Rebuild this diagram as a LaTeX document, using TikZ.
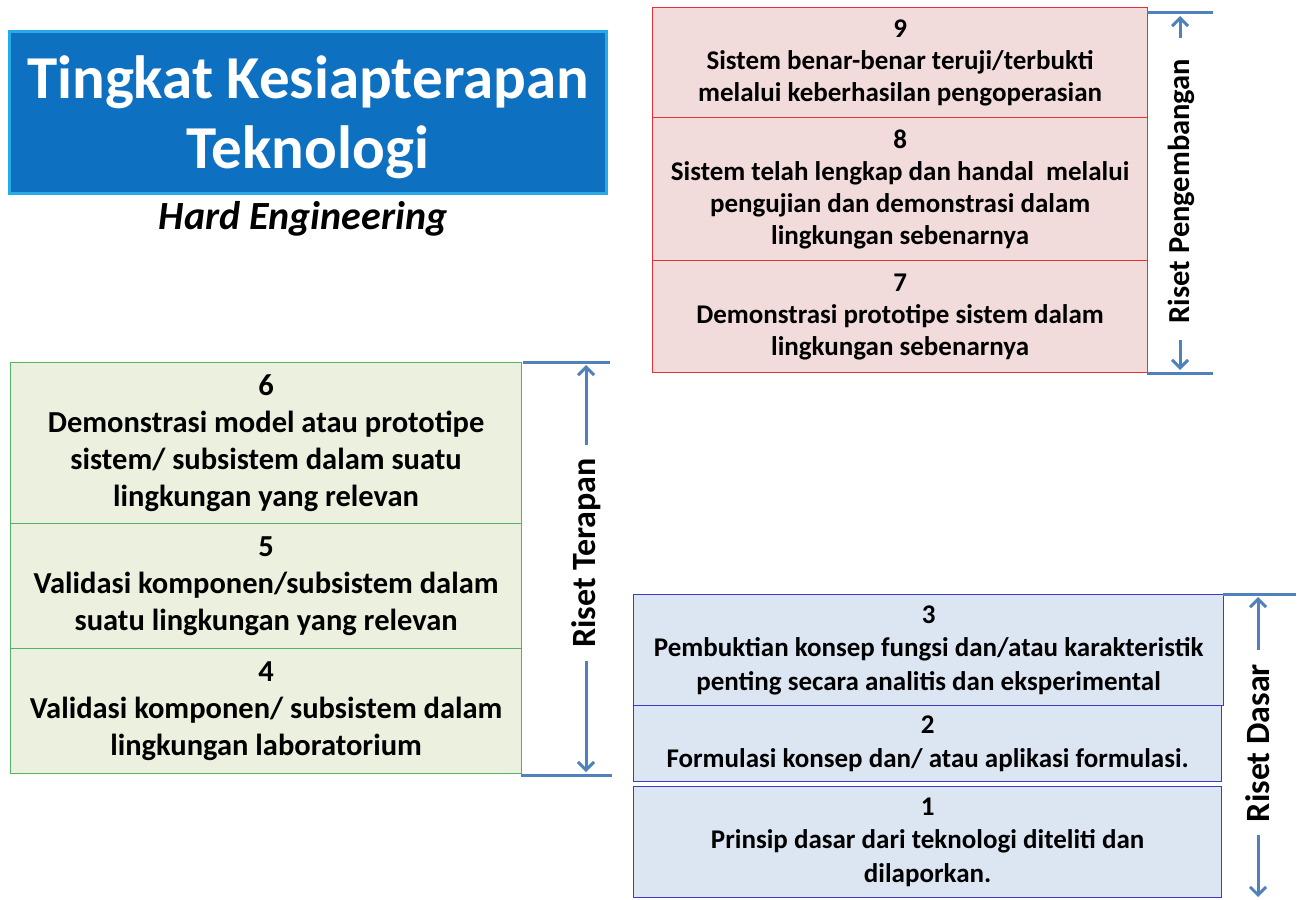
\documentclass[tikz,border=0pt]{standalone}
\usepackage{fontspec}
\setmainfont{Carlito}
\usetikzlibrary{arrows.meta}
\definecolor{titlefill}{RGB}{14,112,192}
\definecolor{titleline}{RGB}{40,170,230}
\definecolor{pinkfill}{RGB}{242,220,219}
\definecolor{redline}{RGB}{228,50,55}
\definecolor{greenfill}{RGB}{235,241,222}
\definecolor{greenline}{RGB}{80,180,100}
\definecolor{bluefill}{RGB}{220,230,242}
\definecolor{blueline}{RGB}{60,60,200}
\definecolor{brk}{RGB}{79,129,189}
\tikzset{
  lvl/.style={draw, line width=1.2pt, align=center, inner sep=0pt, anchor=north west},
  redbox/.style={lvl, fill=pinkfill, draw=redline, font=\bfseries\fontsize{27}{32}\selectfont},
  greenbox/.style={lvl, fill=greenfill, draw=greenline, font=\bfseries\fontsize{30.5}{37}\selectfont},
  bluebox/.style={lvl, fill=bluefill, draw=blueline, font=\bfseries\fontsize{27}{33.5}\selectfont},
  brkline/.style={draw=brk, line width=3pt},
  brkarrow/.style={draw=brk, line width=3pt, -{Straight Barb[length=8pt,width=16pt]}},
  sidelabel/.style={rotate=90, inner sep=0pt, font=\bfseries\fontsize{34}{40}\selectfont},
}
\begin{document}
\begin{tikzpicture}[x=1pt,y=-1pt]
\useasboundingbox (0,0) rectangle (1300,899);
% title
\node[draw=titleline, fill=titlefill, line width=3pt, minimum width=597pt, minimum height=162pt, anchor=north west, inner sep=0pt] (title) at (8,30) {};
\node[text=white, align=center, inner sep=0pt, font=\bfseries\fontsize{61}{70}\selectfont] (titletext) at ([yshift=-5pt]title.center) {Tingkat Kesiapterapan\\Teknologi};
\node[font=\bfseries\itshape\fontsize{40}{44}\selectfont, inner sep=0pt] (sub) at (303,219) {Hard Engineering};
% red boxes
\node[redbox, minimum width=495pt, minimum height=110pt, text depth=4pt] (n9) at (652,7) {9\\Sistem benar-benar teruji/terbukti\\melalui keberhasilan pengoperasian};
\node[redbox, minimum width=495pt, minimum height=143pt] (n8) at (652,117) {8\\Sistem telah lengkap dan handal\ \ melalui\\pengujian dan demonstrasi dalam\\lingkungan sebenarnya};
\node[redbox, minimum width=495pt, minimum height=112pt] (n7) at (652,260) {7\\Demonstrasi prototipe sistem dalam\\lingkungan sebenarnya};
% green boxes
\node[greenbox, minimum width=511pt, minimum height=161pt] (n6) at (10,362) {6\\Demonstrasi model atau prototipe\\sistem/ subsistem dalam suatu\\lingkungan yang relevan};
\node[greenbox, minimum width=511pt, minimum height=125pt] (n5) at (10,523) {5\\Validasi komponen/subsistem dalam\\suatu lingkungan yang relevan};
\node[greenbox, minimum width=511pt, minimum height=125pt] (n4) at (10,648) {4\\Validasi komponen/ subsistem dalam\\lingkungan laboratorium};
% blue boxes
\node[bluebox, minimum width=590pt, minimum height=111pt] (n3) at (633,594) {3\\Pembuktian konsep fungsi dan/atau karakteristik\\penting secara analitis dan eksperimental};
\node[bluebox, minimum width=588pt, minimum height=76pt] (n2) at (633,705) {2\\Formulasi konsep dan/ atau aplikasi formulasi.};
\node[bluebox, minimum width=588pt, minimum height=111pt] (n1) at (633,786) {1\\Prinsip dasar dari teknologi diteliti dan\\dilaporkan.};
% Riset Pengembangan
\coordinate (pgA) at (1147,13); \coordinate (pgB) at (1213,13);
\coordinate (pgC) at (1147,373); \coordinate (pgD) at (1213,373);
\coordinate (pgU0) at (1180,38); \coordinate (pgU1) at (1180,16);
\coordinate (pgD0) at (1180,340); \coordinate (pgD1) at (1180,370);
\draw[brkline] (pgA) -- (pgB);
\draw[brkline] (pgC) -- (pgD);
\node[sidelabel, font=\bfseries\fontsize{30.5}{36}\selectfont] (rp) at (1181,191) {Riset Pengembangan};
\draw[brkarrow] (pgU0) -- (pgU1);
\draw[brkarrow] (pgD0) -- (pgD1);
% Riset Terapan
\coordinate (trA) at (523,362); \coordinate (trB) at (610,362);
\coordinate (trC) at (521,775); \coordinate (trD) at (612,775);
\coordinate (trU1) at (586,365); \coordinate (trD1) at (586,772);
\draw[brkline] (trA) -- (trB);
\draw[brkline] (trC) -- (trD);
\node[sidelabel] (rt) at (586,553) {Riset Terapan};
\draw[brkarrow, shorten <=13pt] (rt.east) -- (trU1);
\draw[brkarrow, shorten <=13pt] (rt.west) -- (trD1);
% Riset Dasar
\coordinate (dsA) at (1223,594); \coordinate (dsB) at (1296,594);
\coordinate (dsU1) at (1258,597); \coordinate (dsD1) at (1258,897);
\draw[brkline] (dsA) -- (dsB);
\node[sidelabel] (rd) at (1258,743) {Riset Dasar};
\draw[brkarrow, shorten <=14pt] (rd.east) -- (dsU1);
\draw[brkarrow, shorten <=13pt] (rd.west) -- (dsD1);
\end{tikzpicture}
\end{document}
